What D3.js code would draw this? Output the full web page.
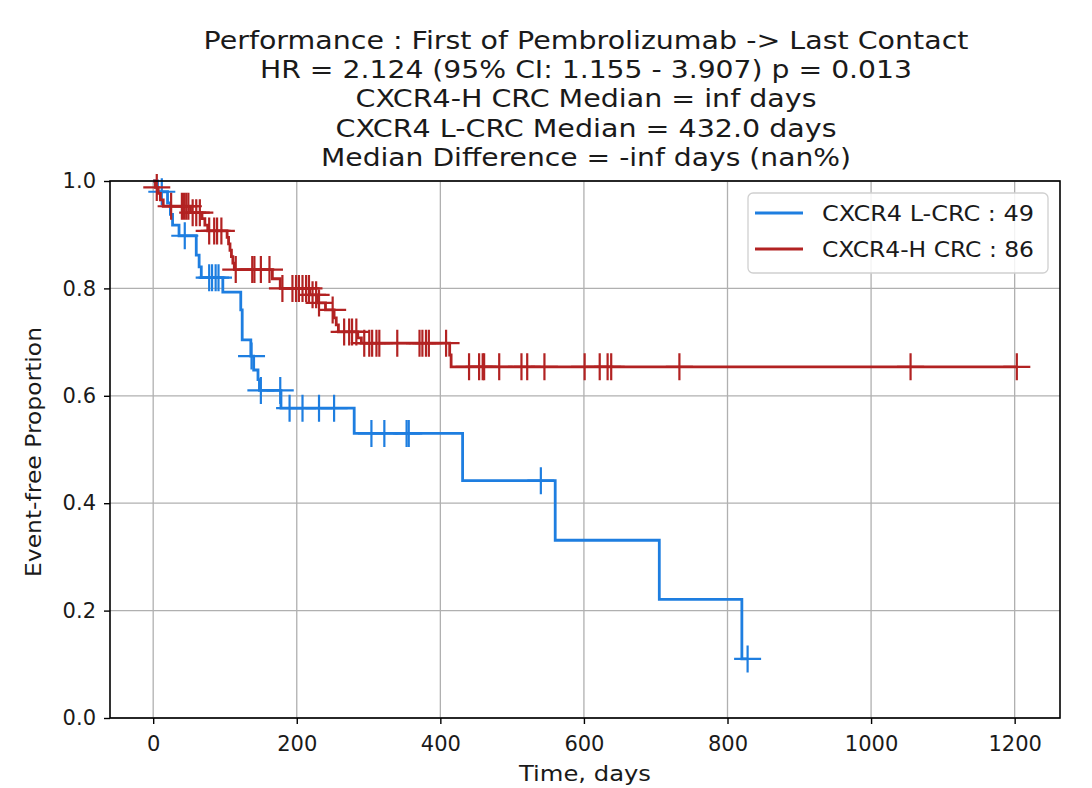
<!DOCTYPE html>
<html>
<head>
<meta charset="utf-8">
<script src="https://cdn.jsdelivr.net/npm/d3@7"></script>
<style>
	body { margin: 0; background: #fff; }
	text { font-family: "DejaVu Sans", sans-serif; fill: #1a1a1a; }
</style>
</head>
<body>
<div id="chart"></div>
<script>
// Title lines and their widths in the picture
const titleLines = [
	"Performance : First of Pembrolizumab -> Last Contact",
	"HR = 2.124 (95% CI: 1.155 - 3.907) p = 0.013",
	"CXCR4-H CRC Median = inf days",
	"CXCR4 L-CRC Median = 432.0 days",
	"Median Difference = -inf days (nan%)"
];
const titleWidths = [765, 652, 461, 501, 530];

// Kaplan-Meier steps [day, proportion]
const lowSteps = [
	[0, 1.0], [6, 0.98], [20, 0.959], [24, 0.938], [27, 0.918], [36, 0.898],
	[60, 0.862], [64, 0.84], [67, 0.82], [97, 0.793], [122, 0.76], [124, 0.704],
	[136, 0.674], [140, 0.648], [146, 0.63], [148, 0.61], [178, 0.577],
	[280, 0.53], [431, 0.442], [560, 0.331], [705, 0.221], [820, 0.11]
];
const lowCensor = [12, 44, 78, 82, 87, 91, 137, 150, 177, 190, 208, 231, 252,
	304, 322, 353, 356, 540, 828];

const highSteps = [
	[0, 1.0], [3, 0.988], [7, 0.977], [10, 0.965], [14, 0.953], [52, 0.941],
	[68, 0.93], [72, 0.918], [76, 0.907], [103, 0.895], [105, 0.883], [107, 0.871],
	[109, 0.859], [111, 0.847], [113, 0.835], [166, 0.818], [177, 0.8],
	[218, 0.788], [229, 0.773], [240, 0.76], [252, 0.745], [255, 0.732],
	[258, 0.719], [285, 0.708], [290, 0.698], [413, 0.676], [415, 0.654]
];
const highCensor = [5, 25, 40, 43, 46, 49, 55, 60, 65, 78, 85, 89, 95, 115, 138,
	141, 150, 162, 180, 194, 199, 203, 208, 213, 217, 222, 227, 231, 250, 266,
	273, 277, 283, 294, 301, 305, 311, 315, 340, 371, 375, 380, 384, 408, 440,
	454, 459, 461, 482, 513, 521, 545, 601, 622, 633, 638, 733, 1055, 1203];

const groupNames = ["CXCR4 L-CRC : 49", "CXCR4-H CRC : 86"];
const groupColors = ["#1e7ee0", "#b22222"];

const xTicks = [0, 200, 400, 600, 800, 1000, 1200];
const yTicks = [0.0, 0.2, 0.4, 0.6, 0.8, 1.0];
const xLabel = "Time, days";
const yLabel = "Event-free Proportion";

const W = 1092, H = 788;
const plot = {left: 110, right: 1060, top: 181, bottom: 718};

const svg = d3.select("#chart").append("svg")
	.attr("width", W)
	.attr("height", H);

const x = d3.scaleLinear().domain([-60.15, 1263.15]).range([plot.left, plot.right]);
const y = d3.scaleLinear().domain([0, 1]).range([plot.bottom, plot.top]);

// grid
svg.append("g").selectAll("line")
	.data(xTicks).enter().append("line")
	.attr("x1", d => x(d)).attr("x2", d => x(d))
	.attr("y1", plot.top).attr("y2", plot.bottom)
	.attr("stroke", "#b0b0b0").attr("stroke-width", 1.3);
svg.append("g").selectAll("line")
	.data(yTicks).enter().append("line")
	.attr("x1", plot.left).attr("x2", plot.right)
	.attr("y1", d => y(d)).attr("y2", d => y(d))
	.attr("stroke", "#b0b0b0").attr("stroke-width", 1.3);

// curves
const groups = [
	{steps: lowSteps, censor: lowCensor, color: groupColors[0]},
	{steps: highSteps, censor: highCensor, color: groupColors[1]}
];
const line = d3.line().x(d => x(d[0])).y(d => y(d[1])).curve(d3.curveStepAfter);
const bis = d3.bisector(d => d[0]).right;

groups.forEach(g => {
	const last = g.steps[g.steps.length - 1];
	const end = Math.max(last[0], d3.max(g.censor));
	const pts = g.steps.concat([[end, last[1]]]);

	svg.append("path")
		.datum(pts)
		.attr("d", line)
		.attr("fill", "none")
		.attr("stroke", g.color)
		.attr("stroke-width", 2.8);

	svg.append("g").selectAll("path")
		.data(g.censor).enter().append("path")
		.attr("transform", t => `translate(${x(t)},${y(g.steps[bis(g.steps, t) - 1][1])})`)
		.attr("d", "M-13.5,0H13.5M0,-13.5V13.5")
		.attr("stroke", g.color)
		.attr("stroke-width", 2.2);
});

// axes
const xAxis = svg.append("g")
	.attr("transform", `translate(0,${plot.bottom})`)
	.call(d3.axisBottom(x).tickValues(xTicks).tickFormat(d3.format("d")).tickSize(6).tickPadding(8));
const yAxis = svg.append("g")
	.attr("transform", `translate(${plot.left},0)`)
	.call(d3.axisLeft(y).tickValues(yTicks).tickFormat(d3.format(".1f")).tickSize(6).tickPadding(8));

[xAxis, yAxis].forEach(a => {
	a.select(".domain").remove();
	a.selectAll(".tick line").attr("stroke", "#000").attr("stroke-width", 1.4);
	a.selectAll(".tick text")
		.attr("fill", "#1a1a1a")
		.style("font-family", "DejaVu Sans")
		.style("font-size", "21px");
});
xAxis.selectAll(".tick text").attr("dy", "0.9em");

// frame
svg.append("rect")
	.attr("x", plot.left).attr("y", plot.top)
	.attr("width", plot.right - plot.left)
	.attr("height", plot.bottom - plot.top)
	.attr("fill", "none")
	.attr("stroke", "#000")
	.attr("stroke-width", 1.6);

// axis labels
svg.append("text")
	.attr("x", 585).attr("y", 781)
	.attr("text-anchor", "middle")
	.attr("textLength", 132).attr("lengthAdjust", "spacingAndGlyphs")
	.style("font-size", "22px")
	.text(xLabel);

svg.append("text")
	.attr("transform", "translate(41,452) rotate(-90)")
	.attr("text-anchor", "middle")
	.attr("textLength", 250).attr("lengthAdjust", "spacingAndGlyphs")
	.style("font-size", "22px")
	.text(yLabel);

// title
titleLines.forEach((t, i) => {
	svg.append("text")
		.attr("x", 586).attr("y", 49 + i * 29.2)
		.attr("text-anchor", "middle")
		.attr("textLength", titleWidths[i]).attr("lengthAdjust", "spacingAndGlyphs")
		.style("font-size", "25px")
		.text(t);
});

// legend
const legend = svg.append("g");
legend.append("rect")
	.attr("x", 748).attr("y", 193)
	.attr("width", 300).attr("height", 80)
	.attr("rx", 5)
	.attr("fill", "#fff").attr("fill-opacity", 0.85)
	.attr("stroke", "#d0d0d0").attr("stroke-width", 1.3);
groupNames.forEach((name, i) => {
	const ly = 213 + i * 36;
	legend.append("line")
		.attr("x1", 755).attr("x2", 803)
		.attr("y1", ly).attr("y2", ly)
		.attr("stroke", groupColors[i]).attr("stroke-width", 2.8);
	legend.append("text")
		.attr("x", 822).attr("y", ly + 8)
		.attr("textLength", 212).attr("lengthAdjust", "spacingAndGlyphs")
		.style("font-size", "21px")
		.text(name);
});
</script>
</body>
</html>
